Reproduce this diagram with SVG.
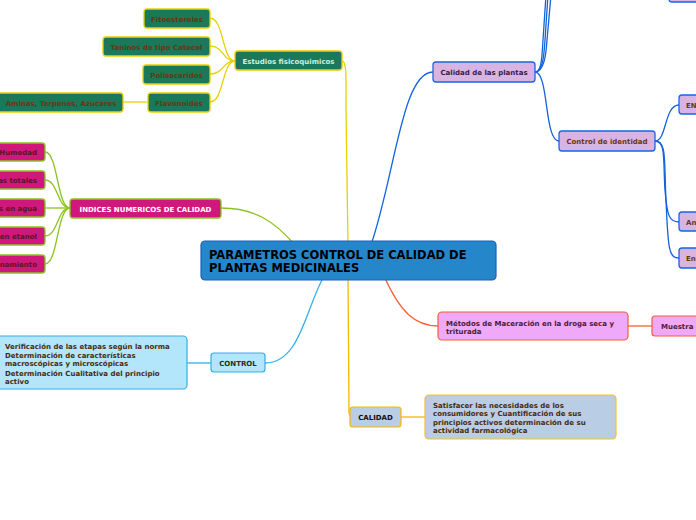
<svg xmlns="http://www.w3.org/2000/svg" width="696" height="520" viewBox="0 0 696 520">
<style>
text{font-family:"DejaVu Sans","Verdana",sans-serif;font-weight:bold;font-size:7px}
text.title{font-size:11.5px;fill:#000}
.c{fill:none;stroke-width:1.3}
.y{stroke:#e8d000}.g{stroke:#8cc320}.b{stroke:#1363dc}.lb{stroke:#35aee6}.o{stroke:#f5b800}.r{stroke:#f26035}
.green rect{fill:#1b7858;stroke:#e8d000;stroke-width:1.3}
.green text{fill:#6b3510;text-anchor:middle}
.mag rect{fill:#d0187c;stroke:#8cc320;stroke-width:1.3}
.mag text{fill:#5a1525;text-anchor:end}
.vio rect{fill:#d8b4e2;stroke:#1a66e0;stroke-width:1.3}
.vio text{fill:#6b3510}
</style>
<rect width="696" height="520" fill="#fff"/>
<g id="connectors">
<path class="c y" d="M342,61 C347,61 346,80 346,110 L348,245"/>
<path class="c y" d="M235,61 C222,61 224,18 210,18"/>
<path class="c y" d="M235,61 C222,61 224,46 210,46"/>
<path class="c y" d="M235,61 C222,61 224,74 210,74"/>
<path class="c y" d="M235,61 C222,61 224,102 210,102"/>
<path class="c y" d="M147,102 L123,102"/>
<path class="c g" d="M221,208 C255,208 275,222 294,244"/>
<path class="c g" d="M70,208 C57,208 58,152 45,152"/>
<path class="c g" d="M70,208 C57,208 58,180 45,180"/>
<path class="c g" d="M70,208 L45,208"/>
<path class="c g" d="M70,208 C57,208 58,236 45,236"/>
<path class="c g" d="M70,208 C57,208 58,264 45,264"/>
<path class="c lb" d="M265,363 C300,363 305,310 324,276"/>
<path class="c lb" d="M211,363 L187,363"/>
<path class="c o" d="M348,276 L349,412 Q349,417 353,417"/>
<path class="c o" d="M401,417 L425,417"/>
<path class="c r" d="M384,276 C400,312 415,326 438,326"/>
<path class="c r" d="M628,326 L652,326"/>
<path class="c b" d="M371,245 C395,175 402,72 433,72"/>
<path class="c b" d="M535,72 C542,72 542,55 543,40 L546,-5"/>
<path class="c b" d="M535,72 C543,72 544,55 545,40 L548,-5"/>
<path class="c b" d="M535,72 C544,72 546,55 547,40 L551,-5"/>
<path class="c b" d="M535,72 C549,72 544,141 559,141"/>
<path class="c b" d="M655,141 C667,141 664,105 679,105"/>
<path class="c b" d="M655,141 C666,141 663,160 665,190 C667,215 669,222 679,222"/>
<path class="c b" d="M655,141 C667,141 664,160 666,200 C668,250 669,258 679,258"/>
</g>
<g id="central">
<rect x="201" y="241" width="295" height="39" rx="4" fill="#2586c9" stroke="#1a62b8" stroke-width="1.2"/>
<text class="title" x="209" y="259">PARAMETROS CONTROL DE CALIDAD DE</text>
<text class="title" x="209" y="271.5">PLANTAS MEDICINALES</text>
</g>
<g id="estudios" class="green">
<rect x="235" y="51" width="107" height="19" rx="3"/>
<text x="288.5" y="63.5" style="fill:#c8f2e2">Estudios fisicoquimicos</text>
</g>
<g id="fitoesteroles" class="green"><rect x="144" y="9" width="66" height="19" rx="3"/><text x="177" y="21.5">Fitoesteroles</text></g>
<g id="taninos" class="green"><rect x="103" y="37" width="107" height="19" rx="3"/><text x="156.5" y="49.5">Taninos de tipo Catecol</text></g>
<g id="polisacaridos" class="green"><rect x="143" y="65" width="67" height="19" rx="3"/><text x="176.5" y="77.5">Polisacaridos</text></g>
<g id="flavonoides" class="green"><rect x="148" y="93" width="62" height="19" rx="3"/><text x="179" y="105.5">Flavonoides</text></g>
<g id="aminas" class="green"><rect x="-5" y="93" width="128" height="19" rx="3"/><text x="61" y="105.5">Aminas, Terpenos, Azucares</text></g>
<g id="indices" class="mag">
<rect x="70" y="199" width="151" height="19" rx="3"/>
<text x="145.5" y="211.5" style="fill:#fff;text-anchor:middle">INDICES NUMERICOS DE CALIDAD</text>
</g>
<g id="humedad" class="mag"><rect x="-20" y="143" width="65" height="18" rx="3"/><text x="37" y="155">Humedad</text></g>
<g id="totales" class="mag"><rect x="-20" y="171" width="65" height="18" rx="3"/><text x="37" y="183">as totales</text></g>
<g id="agua" class="mag"><rect x="-20" y="199" width="65" height="18" rx="3"/><text x="37" y="211">s en agua</text></g>
<g id="etanol" class="mag"><rect x="-20" y="227" width="65" height="18" rx="3"/><text x="37" y="239">en etanol</text></g>
<g id="namiento" class="mag"><rect x="-20" y="255" width="65" height="18" rx="3"/><text x="37" y="267">namiento</text></g>
<g id="control">
<rect x="211" y="353" width="54" height="19" rx="3" fill="#b3e5fb" stroke="#35aee6" stroke-width="1.2"/>
<text x="238" y="365.5" fill="#3a2a10" text-anchor="middle">CONTROL</text>
</g>
<g id="control-detalle">
<rect x="-10" y="336" width="197" height="53" rx="4" fill="#b3e5fb" stroke="#35aee6" stroke-width="1.2"/>
<g fill="#4a2a0a">
<text x="5" y="349">Verificación de las etapas según la norma</text>
<text x="5" y="358">Determinación de características</text>
<text x="5" y="366">macroscópicas y microscópicas</text>
<text x="5" y="375.5">Determinación Cualitativa del principio</text>
<text x="5" y="383.5">activo</text>
</g>
</g>
<g id="calidad">
<rect x="350" y="407" width="51" height="20" rx="3" fill="#b9cde5" stroke="#f5b800" stroke-width="1.2"/>
<text x="375.5" y="420" fill="#111" text-anchor="middle">CALIDAD</text>
</g>
<g id="calidad-detalle">
<rect x="425" y="395" width="191" height="44" rx="4" fill="#b9cde5" stroke="#f5c030" stroke-width="1.2"/>
<g fill="#4a2a0a">
<text x="433" y="407.5">Satisfacer las necesidades de los</text>
<text x="433" y="416">consumidores y Cuantificación de sus</text>
<text x="433" y="424.5">principios activos determinación de su</text>
<text x="433" y="433">actividad farmacológica</text>
</g>
</g>
<g id="metodos">
<rect x="438" y="312" width="190" height="28" rx="4" fill="#f0a8f8" stroke="#f26035" stroke-width="1.2"/>
<text x="446" y="325.5" fill="#4a1a3a">Métodos de Maceración en la droga seca y</text>
<text x="446" y="333.5" fill="#4a1a3a">triturada</text>
</g>
<g id="muestra">
<rect x="652" y="316" width="60" height="20" rx="3" fill="#f0a8f8" stroke="#f26035" stroke-width="1.2"/>
<text x="661" y="329" fill="#4a1a3a">Muestra -</text>
</g>
<g id="calidad-plantas" class="vio">
<rect x="433" y="62" width="102" height="20" rx="3"/>
<text x="484" y="75" style="fill:#3a1a4a" text-anchor="middle">Calidad de las plantas</text>
</g>
<g id="top-node" class="vio"><rect x="669" y="-20" width="40" height="22" rx="3"/></g>
<g id="control-identidad" class="vio">
<rect x="559" y="131" width="96" height="20" rx="3"/>
<text x="607" y="144" text-anchor="middle">Control de identidad</text>
</g>
<g id="en1" class="vio"><rect x="679" y="95" width="30" height="19" rx="3"/><text x="686" y="107.5">EN</text></g>
<g id="an" class="vio"><rect x="679" y="212" width="30" height="19" rx="3"/><text x="686" y="224.5">An</text></g>
<g id="en2" class="vio"><rect x="679" y="248" width="30" height="20" rx="3"/><text x="686" y="261">En</text></g>
</svg>
